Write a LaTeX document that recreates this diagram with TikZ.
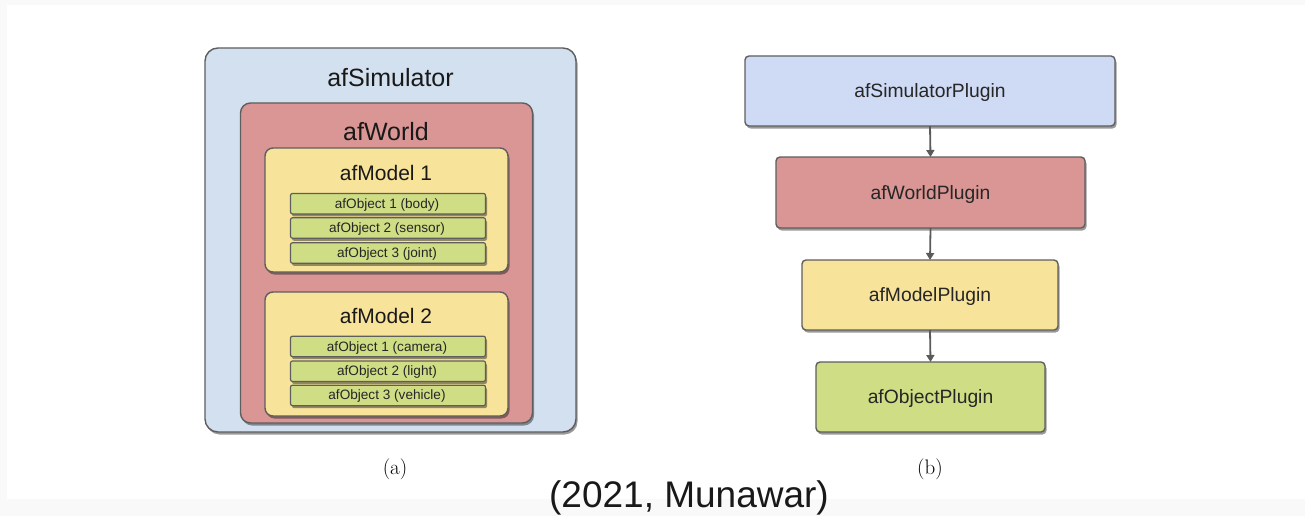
\documentclass[tikz,border=0pt]{standalone}
\usepackage{fontspec}
\newfontfamily\arialfont{Liberation Sans}
\usetikzlibrary{shadows,arrows.meta}

\definecolor{bgray}{HTML}{F9F9F9}
\definecolor{edge}{HTML}{5E5E5E}
\definecolor{simblue}{HTML}{D3E0F0}
\definecolor{plugblue}{HTML}{CFDAF5}
\definecolor{worldred}{HTML}{D99694}
\definecolor{modelyellow}{HTML}{F8E39B}
\definecolor{objgreen}{HTML}{CFDD84}
\definecolor{arrowgray}{HTML}{5A5A5A}

\newcommand{\fsz}[1]{\fontsize{#1}{#1}\selectfont}

\tikzset{
  panel/.style={draw=edge, line width=1.4pt, inner sep=0pt, outer sep=0pt,
    drop shadow={shadow xshift=1.5pt, shadow yshift=-2.5pt, opacity=0.4, fill=black}},
  simbox/.style={panel, fill=simblue, rounded corners=13pt},
  worldbox/.style={panel, fill=worldred, rounded corners=10pt},
  modelbox/.style={panel, fill=modelyellow, rounded corners=8pt},
  objbox/.style={panel, fill=objgreen, rounded corners=2pt, line width=1.2pt,
    minimum width=195pt, minimum height=20.5pt},
  objtext/.style={anchor=base, font=\arialfont\fsz{13.6}, text=black!85},
  title/.style={anchor=base, text=black!90},
  plugbox/.style={panel, rounded corners=4pt, font=\arialfont\fsz{19.3}, text=black!85,
    minimum height=70pt, text depth=0pt},
  flow/.style={draw=arrowgray, line width=1.8pt, -{Triangle[width=8pt,length=7pt]}},
  caption/.style={anchor=base, font=\fsz{21}},
}

\begin{document}
\begin{tikzpicture}[x=1pt, y=-1pt]
  % page background
  \fill[bgray] (0,0) rectangle (1305,516);
  \fill[white] (7,5) rectangle (1305,499);
  \useasboundingbox (0,0) rectangle (1305,516);

  % (a) nested containers
  \node[simbox, minimum width=371pt, minimum height=384pt] (sim) at (390.5,240) {};
  \node[title, font=\arialfont\fsz{25}] (simT) at (390.5,87) {afSimulator};
  \node[worldbox, minimum width=292pt, minimum height=320pt] (world) at (386.5,263) {};
  \node[title, font=\arialfont\fsz{25}] (worldT) at (386,140) {afWorld};

  \node[modelbox, minimum width=243pt, minimum height=124pt] (m1) at (386.5,210) {};
  \node[title, font=\arialfont\fsz{21}] (m1T) at (386,180) {afModel 1};
  \node[objbox] (o11) at (388,203.7) {};
  \node[objbox] (o12) at (388,228) {};
  \node[objbox] (o13) at (388,253) {};
  \node[objtext] (o11T) at (387,208) {afObject 1 (body)};
  \node[objtext] (o12T) at (387,232.5) {afObject 2 (sensor)};
  \node[objtext] (o13T) at (387,257.5) {afObject 3 (joint)};

  \node[modelbox, minimum width=243pt, minimum height=124pt] (m2) at (386.5,354) {};
  \node[title, font=\arialfont\fsz{21}] (m2T) at (386,323) {afModel 2};
  \node[objbox] (o21) at (388,346.4) {};
  \node[objbox] (o22) at (388,371.2) {};
  \node[objbox] (o23) at (388,395.4) {};
  \node[objtext] (o21T) at (387,351.5) {afObject 1 (camera)};
  \node[objtext] (o22T) at (387,375.5) {afObject 2 (light)};
  \node[objtext] (o23T) at (387,399.5) {afObject 3 (vehicle)};

  % (b) plugin chain
  \node[plugbox, fill=plugblue, minimum width=370pt] (simP) at (930,91) {afSimulatorPlugin};
  \node[plugbox, fill=worldred, minimum width=309pt, minimum height=71pt] (worldP) at (930.5,192.5) {afWorldPlugin};
  \node[plugbox, fill=modelyellow, minimum width=256pt] (modelP) at (930,295) {afModelPlugin};
  \node[plugbox, fill=objgreen, minimum width=229pt] (objP) at (930.5,397) {afObjectPlugin};

  \draw[flow] (simP.south) -- (worldP.north);
  \draw[flow] (worldP.south) -- (modelP.north);
  \draw[flow] (modelP.south) -- (objP.north);

  % captions
  \node[caption] (capA) at (395,474) {(a)};
  \node[caption] (capB) at (930,474) {(b)};
  \node[anchor=base, font=\arialfont\fsz{37}, text=black!90] (credit) at (689,507) {(2021, Munawar)};
\end{tikzpicture}
\end{document}
